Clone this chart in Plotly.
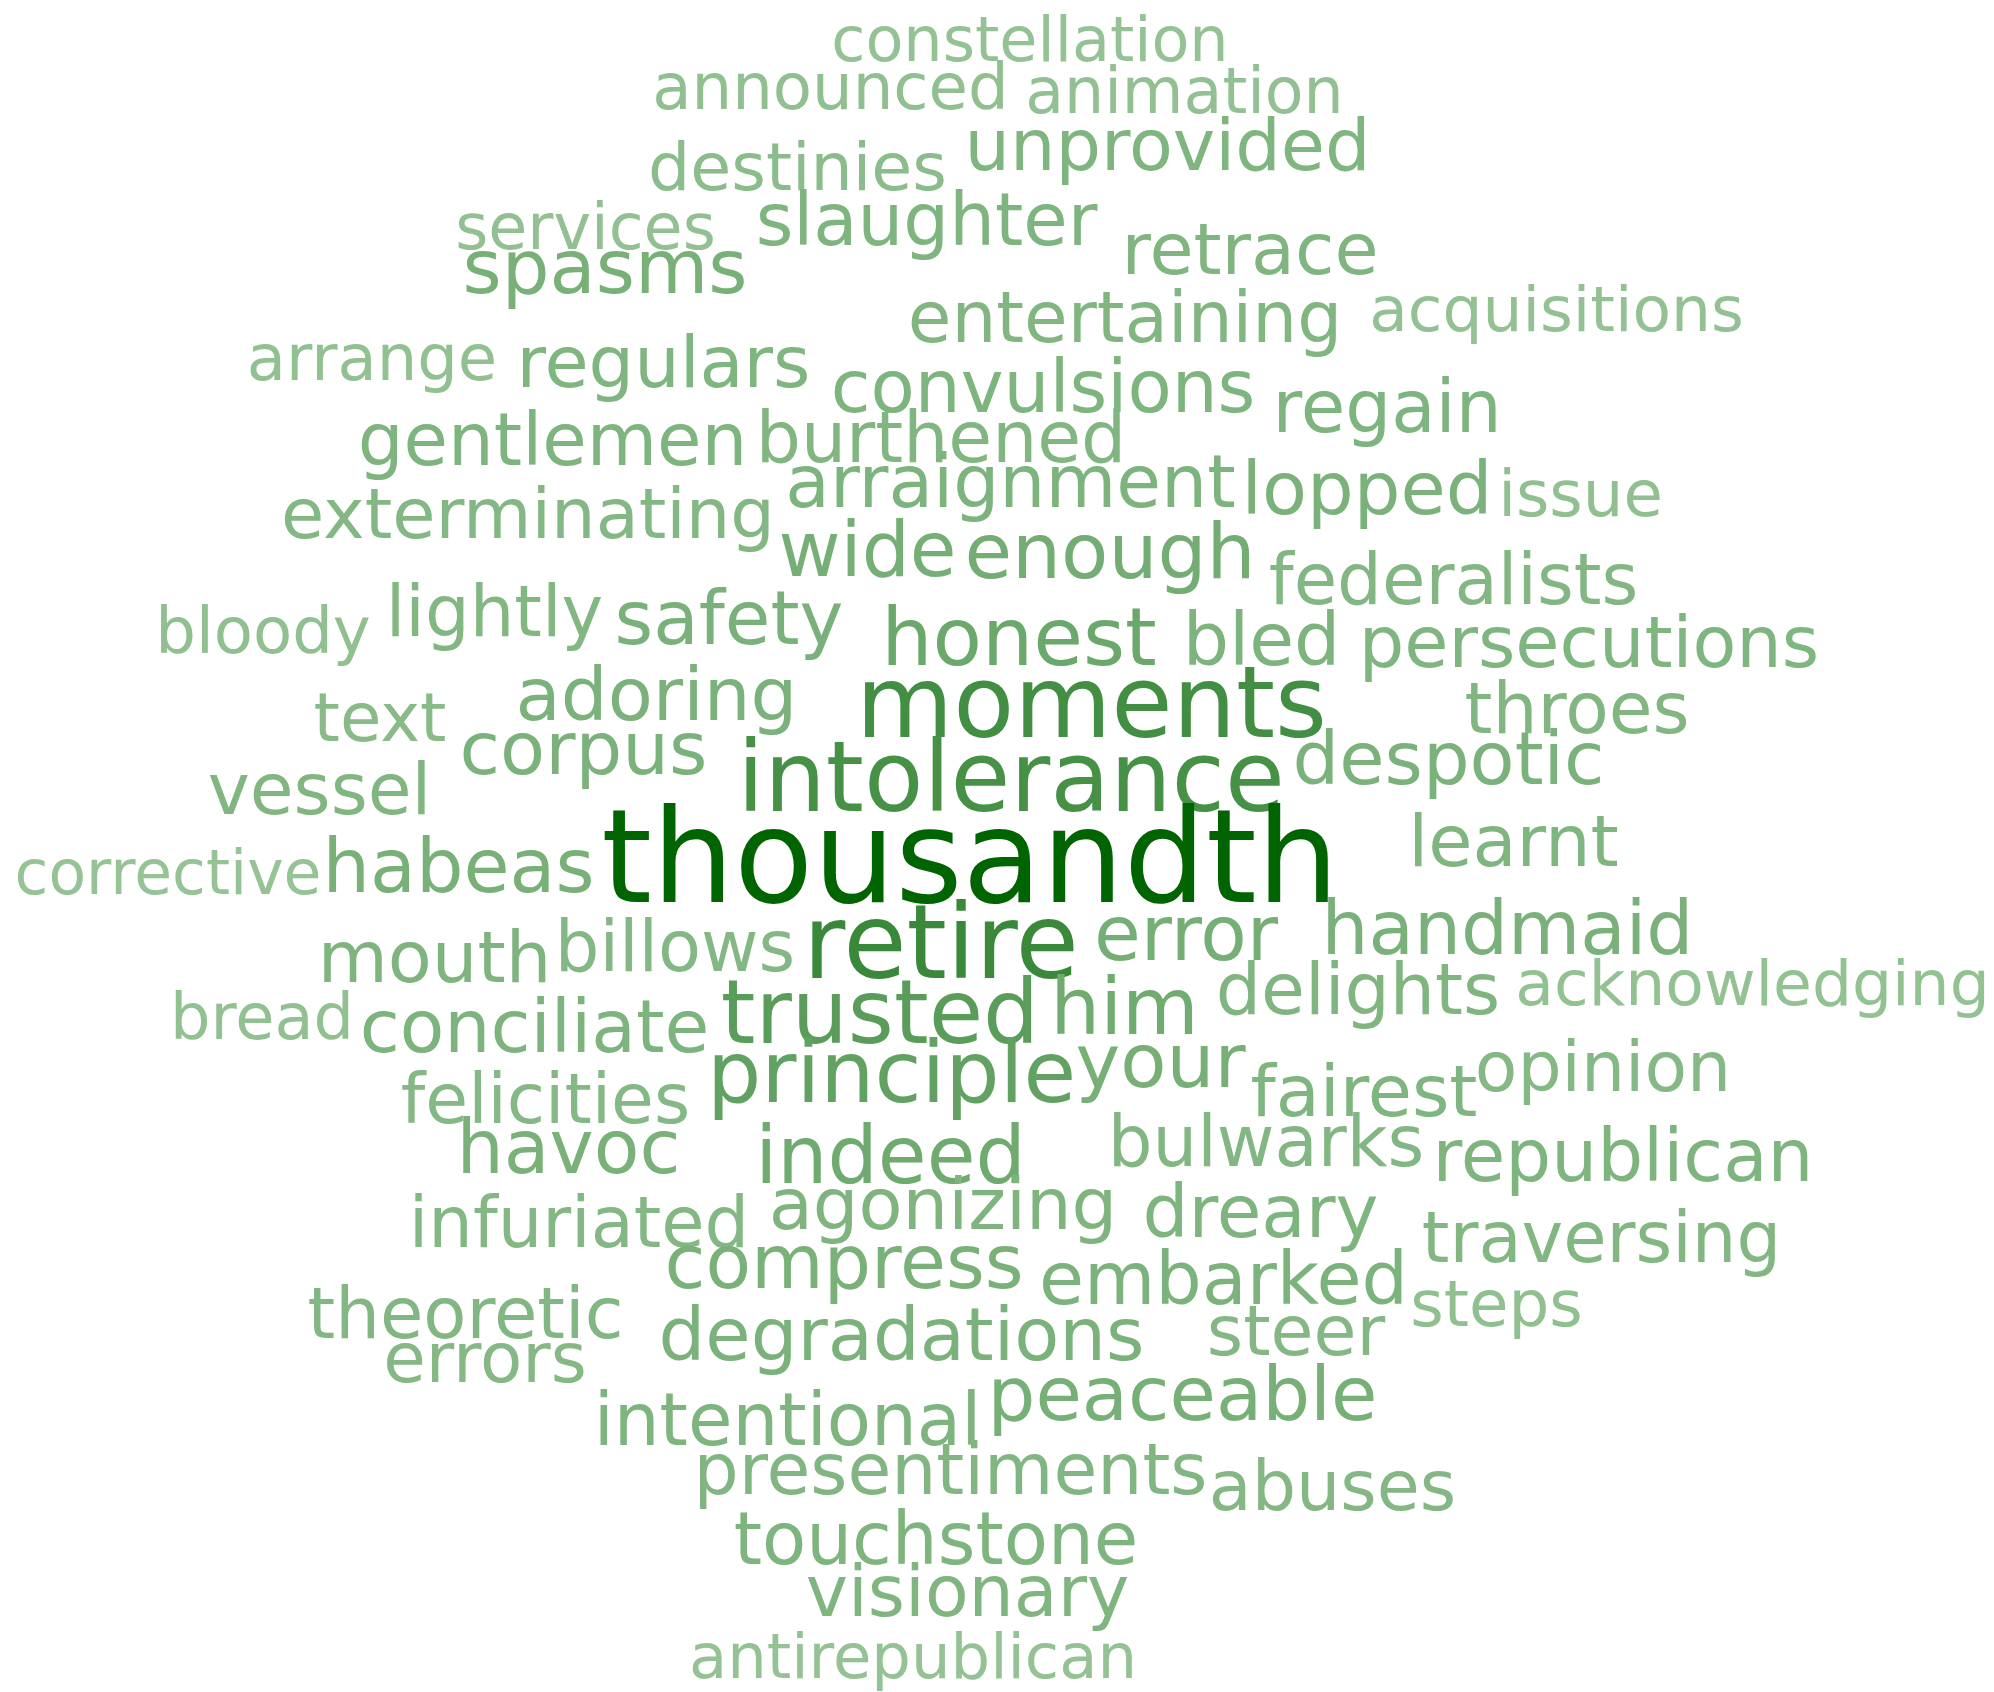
import plotly.graph_objects as go

# ---- data: the words of the cloud ----
WORDS = [
    "constellation", "announced", "animation", "unprovided", "destinies", "slaughter",
    "services", "spasms", "retrace", "entertaining", "acquisitions", "arrange",
    "regulars", "convulsions", "regain", "gentlemen", "burthened", "arraignment",
    "lopped", "issue", "exterminating", "wide", "enough", "federalists",
    "bloody", "lightly", "safety", "honest", "bled", "persecutions",
    "adoring", "moments", "text", "throes", "corpus", "intolerance",
    "despotic", "vessel", "learnt", "thousandth", "corrective", "habeas",
    "retire", "error", "handmaid", "mouth", "billows", "acknowledging",
    "bread", "delights", "trusted", "him", "conciliate", "opinion",
    "your", "principle", "fairest", "felicities", "havoc", "indeed",
    "bulwarks", "republican", "infuriated", "agonizing", "dreary", "traversing",
    "compress", "embarked", "steps", "theoretic", "degradations", "steer",
    "errors", "peaceable", "intentional", "presentiments", "abuses", "touchstone",
    "visionary", "antirepublican",
]

# ---- layout of the cloud (pixel space of the 1994x1692 canvas) ----
X_LEFT = [
    835, 656, 1029, 968, 652, 760,
    459, 467, 1125, 912, 1373, 250,
    520, 835, 1276, 362, 760, 789,
    1246, 1502, 284, 783, 969, 1273,
    159, 390, 619, 886, 1187, 1363,
    520, 862, 317, 1468, 464, 743,
    1297, 212, 1412, 609, 17, 327,
    807, 1097, 1326, 322, 559, 1519,
    173, 1220, 726, 1055, 364, 1479,
    1080, 712, 1254, 405, 461, 760,
    1112, 1436, 413, 773, 1146, 1426,
    668, 1042, 1414, 311, 663, 1211,
    386, 992, 598, 697, 1213, 738,
    810, 692,
]
X_RIGHT = [
    1225, 1005, 1340, 1367, 943, 1093,
    712, 743, 1375, 1338, 1740, 494,
    807, 1251, 1498, 743, 1122, 1232,
    1488, 1659, 772, 952, 1251, 1634,
    367, 599, 839, 1152, 1336, 1815,
    793, 1321, 443, 1686, 703, 1279,
    1600, 427, 1615, 1331, 319, 590,
    1075, 1275, 1689, 547, 791, 1986,
    351, 1496, 1034, 1194, 705, 1727,
    1241, 1071, 1474, 686, 676, 1021,
    1420, 1810, 745, 1113, 1375, 1777,
    1020, 1405, 1579, 620, 1140, 1381,
    584, 1373, 977, 1204, 1452, 1134,
    1125, 1134,
]
BASELINE = [
    61, 109, 113, 170, 190, 245,
    249, 293, 274, 342, 331, 380,
    387, 412, 432, 465, 462, 507,
    514, 516, 538, 576, 578, 604,
    653, 636, 644, 665, 665, 667,
    720, 737, 741, 733, 774, 811,
    784, 814, 866, 902, 894, 892,
    978, 960, 954, 982, 971, 1005,
    1039, 1014, 1043, 1034, 1052, 1091,
    1087, 1102, 1116, 1123, 1173, 1183,
    1166, 1181, 1247, 1229, 1237, 1262,
    1288, 1304, 1326, 1338, 1360, 1355,
    1382, 1420, 1445, 1494, 1510, 1564,
    1616, 1678,
]

W, H = 1994, 1692
FONT = "DejaVu Sans"
# DejaVu Sans advance widths (units per 2048 em)
ADV = {
    "a": 1255, "b": 1300, "c": 1126, "d": 1300, "e": 1260, "f": 721, "g": 1300,
    "h": 1298, "i": 569, "j": 569, "k": 1186, "l": 569, "m": 1995, "n": 1298,
    "o": 1253, "p": 1300, "q": 1300, "r": 842, "s": 1067, "t": 803, "u": 1298,
    "v": 1212, "w": 1675, "x": 1212, "y": 1212, "z": 1075,
}
BEARINGS = 0.12  # side bearings not covered by ink (em)


def ink_em(word):
    return sum(ADV[c] for c in word) / 2048.0 - BEARINGS


sizes = [(r - l) / ink_em(w) for w, l, r in zip(WORDS, X_LEFT, X_RIGHT)]
smin, smax = min(sizes), max(sizes)
LIGHT = (150, 195, 150)
DARK = (0, 100, 0)


def colour(s):
    t = (s - smin) / (smax - smin)
    c = [round(a + (b - a) * t) for a, b in zip(LIGHT, DARK)]
    return f"rgb({c[0]},{c[1]},{c[2]})"


colors = [colour(s) for s in sizes]
xs = [(l + r) / 2 for l, r in zip(X_LEFT, X_RIGHT)]
# plotly puts the baseline of 'middle' text 0.25 em below the anchor point
ys = [b - 0.25 * s for b, s in zip(BASELINE, sizes)]

fig = go.Figure(
    go.Scatter(
        x=xs, y=ys, mode="text", text=WORDS, textposition="middle center",
        textfont=dict(family=FONT, size=sizes, color=colors),
        hoverinfo="skip", cliponaxis=False,
    )
)
fig.update_layout(
    width=W, height=H, autosize=False,
    margin=dict(l=0, r=0, t=0, b=0),
    paper_bgcolor="white", plot_bgcolor="white",
    showlegend=False,
    xaxis=dict(range=[0, W], visible=False, fixedrange=True),
    yaxis=dict(range=[H, 0], visible=False, fixedrange=True),
)
fig.write_html(
    "out.html",
    config={"displayModeBar": False},
    post_script="document.body.style.margin='0';document.body.style.overflow='hidden';",
)
